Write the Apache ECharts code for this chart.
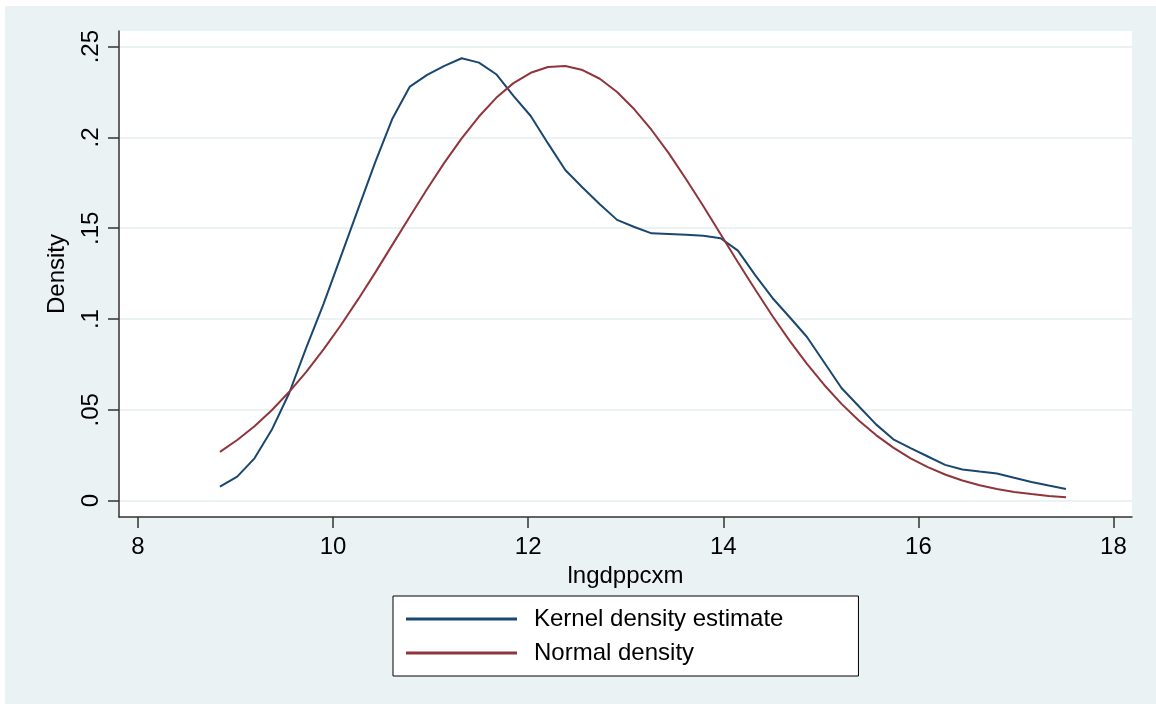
<!DOCTYPE html>
<html>
<head>
<meta charset="utf-8">
<script src="https://cdn.jsdelivr.net/npm/echarts@6/dist/echarts.min.js"></script>
<style>
  html, body { margin:0; padding:0; background:#fff; }
  #bg { position:absolute; left:5px; top:6px; width:1151px; height:698px; background:#EAF2F3; }
  #chart { position:absolute; left:0; top:0; width:1156px; height:704px; }
</style>
</head>
<body>
<div id="bg"></div>
<div id="chart"></div>
<script>
// Evaluation points (lngdppcxm)
const xs = [8.840, 9.017, 9.194, 9.371, 9.548, 9.725, 9.902, 10.079, 10.256, 10.433,
            10.610, 10.787, 10.964, 11.141, 11.318, 11.495, 11.672, 11.849, 12.026, 12.203,
            12.380, 12.557, 12.734, 12.911, 13.088, 13.265, 13.442, 13.619, 13.796, 13.973,
            14.150, 14.327, 14.504, 14.681, 14.858, 15.035, 15.212, 15.389, 15.566, 15.743,
            15.920, 16.097, 16.274, 16.451, 16.628, 16.805, 16.982, 17.159, 17.336, 17.513];
// Kernel density estimate
const kernel = [0.0077, 0.0132, 0.0233, 0.0390, 0.0590, 0.0843, 0.1083, 0.1344, 0.1605, 0.1865,
                0.2106, 0.2280, 0.2344, 0.2394, 0.2436, 0.2412, 0.2348, 0.2229, 0.2118, 0.1967,
                0.1821, 0.1724, 0.1632, 0.1546, 0.1507, 0.1472, 0.1468, 0.1464, 0.1458, 0.1445,
                0.1377, 0.1242, 0.1116, 0.1010, 0.0901, 0.0761, 0.0620, 0.0520, 0.0420, 0.0338,
                0.0289, 0.0243, 0.0197, 0.0172, 0.0160, 0.0150, 0.0126, 0.0103, 0.0083, 0.0064];
// Normal density
const normal = [0.0269, 0.0334, 0.0410, 0.0498, 0.0598, 0.0709, 0.0833, 0.0966, 0.1108, 0.1257,
                0.1411, 0.1565, 0.1716, 0.1861, 0.1995, 0.2115, 0.2218, 0.2299, 0.2356, 0.2388,
                0.2393, 0.2371, 0.2323, 0.2250, 0.2155, 0.2041, 0.1912, 0.1770, 0.1621, 0.1467,
                0.1313, 0.1163, 0.1017, 0.0880, 0.0753, 0.0637, 0.0533, 0.0441, 0.0361, 0.0292,
                0.0233, 0.0185, 0.0144, 0.0111, 0.0085, 0.0064, 0.0048, 0.0036, 0.0026, 0.0019];
const xTicks = [8, 10, 12, 14, 16, 18];
const yTicks = [0, 0.05, 0.1, 0.15, 0.2, 0.25];
const seriesNames = ['Kernel density estimate', 'Normal density'];
const xName = 'lngdppcxm';
const yName = 'Density';

const kernelData = xs.map((x, i) => [x, kernel[i]]);
const normalData = xs.map((x, i) => [x, normal[i]]);

const chart = echarts.init(document.getElementById('chart'), null, { renderer: 'canvas' });
const font = 'Liberation Sans, Arial, Helvetica, sans-serif';
const axisColor = '#333';
const fs = 24;

chart.setOption({
  animation: false,
  backgroundColor: 'transparent',
  textStyle: { fontFamily: font },
  grid: {
    left: 119, right: 24, top: 31, bottom: 187,
    show: true, backgroundColor: '#fff', borderWidth: 0, containLabel: false
  },
  legend: {
    orient: 'vertical',
    left: 393, top: 596,
    padding: [11, 75, 11, 13],
    itemWidth: 111, itemHeight: 3, itemGap: 10,
    icon: 'rect',
    backgroundColor: '#fff', borderColor: '#000', borderWidth: 1, borderRadius: 0,
    textStyle: { fontSize: fs, color: '#000', fontFamily: font, padding: [0, 0, 0, 12] },
    data: seriesNames
  },
  xAxis: {
    type: 'value', min: 7.805, max: 18.19,
    name: xName, nameLocation: 'middle', nameGap: 44,
    nameTextStyle: { fontSize: fs, color: '#000', fontFamily: font },
    axisLine: { show: true, onZero: false, lineStyle: { color: axisColor, width: 1.5 } },
    axisTick: { show: true, length: 11, customValues: xTicks, lineStyle: { color: axisColor, width: 1.5 } },
    axisLabel: { customValues: xTicks, fontSize: fs, color: '#000', margin: 18, fontFamily: font },
    splitLine: { show: false }
  },
  yAxis: {
    type: 'value', min: -0.009, max: 0.2586,
    name: yName, nameLocation: 'middle', nameGap: 50, nameRotate: 90,
    nameTextStyle: { fontSize: fs, color: '#000', fontFamily: font },
    axisLine: { show: true, onZero: false, lineStyle: { color: axisColor, width: 1.5 } },
    axisTick: { show: true, length: 11, customValues: yTicks, lineStyle: { color: axisColor, width: 1.5 } },
    axisLabel: {
      customValues: yTicks, fontSize: fs, color: '#000', margin: 16, rotate: 90, fontFamily: font,
      formatter: v => v === 0 ? '0' : String(+v.toFixed(2)).replace(/^0/, '')
    },
    splitLine: { show: true, lineStyle: { color: '#EAF2F3', width: 2 } }
  },
  series: [
    {
      name: seriesNames[0], type: 'line', data: kernelData, symbol: 'none',
      color: '#1A476F', lineStyle: { color: '#1A476F', width: 2 }, z: 2
    },
    {
      name: seriesNames[1], type: 'line', data: normalData, symbol: 'none',
      color: '#90353B', lineStyle: { color: '#90353B', width: 2 }, z: 3
    }
  ]
});
</script>
</body>
</html>
